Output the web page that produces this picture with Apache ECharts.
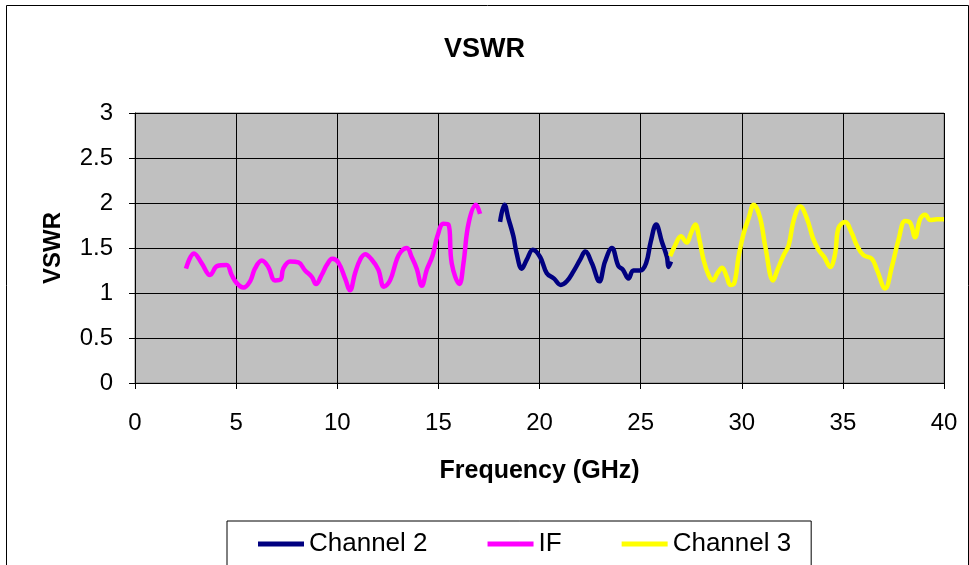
<!DOCTYPE html>
<html>
<head>
<meta charset="utf-8">
<script src="https://cdn.jsdelivr.net/npm/echarts@6/dist/echarts.min.js"></script>
<style>
html,body{margin:0;padding:0;background:#fff;}
#chart{width:969px;height:565px;}
</style>
</head>
<body>
<div id="chart"></div>
<script>
var seriesNames = ['Channel 2', 'IF', 'Channel 3'];
var xTicks = [0, 5, 10, 15, 20, 25, 30, 35, 40];
var yTicks = [0, 0.5, 1, 1.5, 2, 2.5, 3];

var ifFreq = [2.52,2.92,3.3,3.71,4.07,4.53,4.78,5.03,5.36,5.69,5.93,6.27,6.59,6.92,7.2,7.33,7.67,8.08,8.41,8.74,8.95,9.23,9.48,9.76,10.05,10.39,10.63,10.88,11.13,11.38,11.71,12.03,12.31,12.61,12.94,13.15,13.44,13.68,13.93,14.18,14.43,14.72,14.95,15.25,15.5,15.66,16.04,16.24,16.49,16.86,17.06];
var ifVswr = [1.27,1.44,1.33,1.2,1.3,1.31,1.2,1.11,1.06,1.13,1.27,1.36,1.29,1.14,1.15,1.27,1.35,1.34,1.25,1.18,1.1,1.2,1.31,1.38,1.34,1.16,1.03,1.22,1.37,1.43,1.37,1.26,1.07,1.14,1.37,1.46,1.5,1.4,1.27,1.08,1.26,1.42,1.63,1.77,1.76,1.33,1.1,1.33,1.77,1.98,1.88];

var ch2Freq = [18.05,18.27,18.46,18.71,18.87,19.12,19.37,19.67,20.03,20.36,20.72,21.05,21.35,21.68,22.01,22.26,22.59,22.96,23.24,23.58,23.9,24.12,24.4,24.64,24.98,25.27,25.5,25.77,26.05,26.3,26.38,26.5];
var ch2Vswr = [1.79,1.98,1.83,1.63,1.44,1.27,1.37,1.48,1.4,1.22,1.16,1.09,1.13,1.24,1.37,1.46,1.33,1.13,1.35,1.5,1.3,1.26,1.16,1.25,1.25,1.33,1.57,1.76,1.57,1.4,1.29,1.35];

var ch3Freq = [26.46,26.71,26.99,27.28,27.48,27.7,27.91,28.11,28.36,28.57,28.8,29.03,29.26,29.43,29.63,29.84,30.09,30.34,30.59,30.89,31.17,31.55,31.77,32.07,32.32,32.57,32.89,33.22,33.52,33.8,34.08,34.37,34.62,34.78,35.11,35.45,35.69,36.02,36.43,36.68,37.09,37.42,37.75,38.08,38.33,38.57,38.82,39.07,39.32,39.65,40];
var ch3Vswr = [1.41,1.53,1.63,1.56,1.66,1.76,1.59,1.37,1.2,1.14,1.22,1.28,1.18,1.09,1.11,1.4,1.66,1.83,1.98,1.85,1.51,1.14,1.26,1.42,1.53,1.81,1.96,1.83,1.61,1.48,1.4,1.29,1.44,1.72,1.79,1.66,1.53,1.42,1.38,1.26,1.05,1.29,1.59,1.8,1.78,1.62,1.82,1.87,1.81,1.82,1.82];

function zip(a, b) { return a.map(function (v, i) { return [v, b[i]]; }); }

var colors = ['#000080', '#FF00FF', '#FFFF00'];
var dataSets = [zip(ch2Freq, ch2Vswr), zip(ifFreq, ifVswr), zip(ch3Freq, ch3Vswr)];
var FONT = 'Liberation Sans, Arial, sans-serif';

var chart = echarts.init(document.getElementById('chart'), null, {renderer: 'canvas'});
chart.setOption({
  animation: false,
  backgroundColor: '#ffffff',
  title: {
    text: 'VSWR', left: 'center', top: 31,
    textStyle: {fontFamily: FONT, fontSize: 27, fontWeight: 'bold', color: '#000'}
  },
  graphic: [{
    type: 'rect', left: 4, top: 3, z: -10, silent: true,
    shape: {x: 0, y: 0, width: 962, height: 600},
    style: {fill: 'none', stroke: '#000', lineWidth: 1}
  }],
  legend: {
    data: seriesNames,
    left: 227, top: 521,
    padding: [10, 20, 30, 31],
    itemGap: 60,
    itemWidth: 46, itemHeight: 5,
    icon: 'rect',
    borderColor: '#000', borderWidth: 1,
    textStyle: {fontFamily: FONT, fontSize: 26, color: '#000'}
  },
  grid: {left: 135, right: 25, top: 113, bottom: 182, show: true, backgroundColor: '#C0C0C0', borderColor: '#808080', borderWidth: 1},
  xAxis: {
    type: 'value', min: xTicks[0], max: xTicks[xTicks.length - 1], interval: 5,
    name: 'Frequency (GHz)', nameLocation: 'middle', nameGap: 76,
    nameTextStyle: {fontFamily: FONT, fontSize: 25, fontWeight: 'bold', color: '#000'},
    axisLine: {show: true, lineStyle: {color: '#000', width: 1}},
    axisTick: {show: true, length: 6, lineStyle: {color: '#000'}},
    axisLabel: {fontFamily: FONT, fontSize: 24, color: '#000', margin: 28},
    splitLine: {show: true, lineStyle: {color: '#000', width: 1}}
  },
  yAxis: {
    type: 'value', min: yTicks[0], max: yTicks[yTicks.length - 1], interval: 0.5,
    name: 'VSWR', nameLocation: 'middle', nameGap: 70, nameRotate: 90,
    nameTextStyle: {fontFamily: FONT, fontSize: 24, fontWeight: 'bold', color: '#000'},
    axisLine: {show: true, lineStyle: {color: '#000', width: 1}},
    axisTick: {show: true, length: 6, lineStyle: {color: '#000'}},
    axisLabel: {fontFamily: FONT, fontSize: 24, color: '#000', margin: 22},
    splitLine: {show: true, lineStyle: {color: '#000', width: 1}}
  },
  series: seriesNames.map(function (n, i) {
    return {
      name: n, type: 'line', data: dataSets[i],
      showSymbol: false, symbol: 'none', smooth: 0.4,
      lineStyle: {color: colors[i], width: 4.5},
      itemStyle: {color: colors[i]}
    };
  })
});
</script>
</body>
</html>
